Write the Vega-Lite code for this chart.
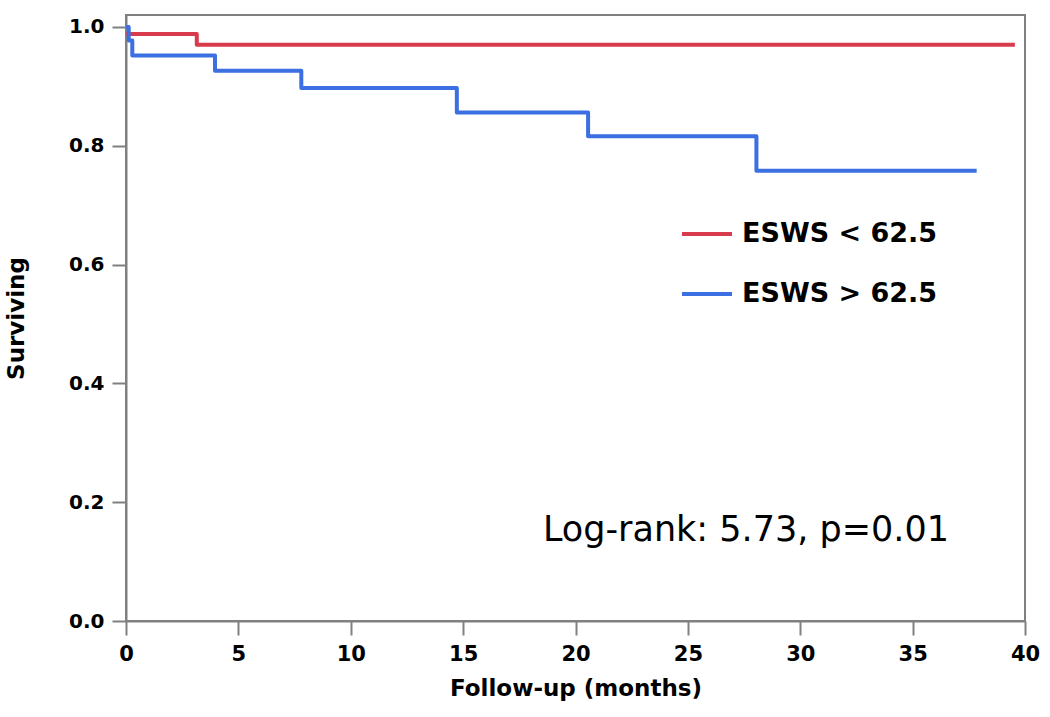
{
  "$schema": "https://vega.github.io/schema/vega-lite/v6.json",
  "autosize": "none",
  "width": 899,
  "height": 606,
  "padding": {"left": 126, "top": 15, "right": 25, "bottom": 96},
  "background": "white",
  "config": {
    "view": {"stroke": "#808080", "strokeWidth": 2},
    "font": "DejaVu Sans"
  },
  "datasets": {
    "km": [
      {"group": "ESWS < 62.5", "months": 0, "surv": 0.988},
      {"group": "ESWS < 62.5", "months": 3.15, "surv": 0.970},
      {"group": "ESWS < 62.5", "months": 39.55, "surv": 0.970},
      {"group": "ESWS > 62.5", "months": 0, "surv": 1.0},
      {"group": "ESWS > 62.5", "months": 0.12, "surv": 0.977},
      {"group": "ESWS > 62.5", "months": 0.28, "surv": 0.952},
      {"group": "ESWS > 62.5", "months": 3.96, "surv": 0.926},
      {"group": "ESWS > 62.5", "months": 7.8, "surv": 0.897},
      {"group": "ESWS > 62.5", "months": 14.72, "surv": 0.856},
      {"group": "ESWS > 62.5", "months": 20.56, "surv": 0.816},
      {"group": "ESWS > 62.5", "months": 28.05, "surv": 0.758},
      {"group": "ESWS > 62.5", "months": 37.85, "surv": 0.758}
    ],
    "note": [
      {"months": 18.55, "surv": 0.153, "label": "Log-rank: 5.73, p=0.01"}
    ]
  },
  "layer": [
    {
      "data": {"name": "km"},
      "mark": {"type": "line", "interpolate": "step-after", "strokeWidth": 4, "strokeJoin": "round", "strokeCap": "butt"},
      "encoding": {
        "x": {
          "field": "months", "type": "quantitative",
          "scale": {"domain": [0, 40], "nice": false, "zero": false},
          "axis": {
            "title": "Follow-up (months)", "values": [0, 5, 10, 15, 20, 25, 30, 35, 40],
            "grid": false, "domainColor": "#808080", "domainWidth": 2,
            "tickColor": "#808080", "tickWidth": 2, "tickSize": 14,
            "labelFont": "DejaVu Sans", "labelFontWeight": "bold", "labelFontSize": 21, "labelColor": "black",
            "labelPadding": 8, "labelFlush": false,
            "titleFont": "DejaVu Sans", "titleFontWeight": "bold", "titleFontSize": 23, "titleColor": "black",
            "titlePadding": 13
          }
        },
        "y": {
          "field": "surv", "type": "quantitative",
          "scale": {"domain": [0, 1.02], "nice": false, "zero": false},
          "axis": {
            "title": "Surviving", "values": [0, 0.2, 0.4, 0.6, 0.8, 1.0], "format": ".1f",
            "grid": false, "domainColor": "#808080", "domainWidth": 2,
            "tickColor": "#808080", "tickWidth": 2, "tickSize": 14,
            "labelFont": "DejaVu Sans", "labelFontWeight": "bold", "labelFontSize": 20, "labelColor": "black",
            "labelPadding": 8, "labelFlush": false,
            "titleFont": "DejaVu Sans", "titleFontWeight": "bold", "titleFontSize": 23, "titleColor": "black",
            "titlePadding": 40
          }
        },
        "color": {
          "field": "group", "type": "nominal",
          "scale": {"domain": ["ESWS < 62.5", "ESWS > 62.5"], "range": ["#d83c4c", "#3b6fe2"]},
          "legend": {
            "title": null, "orient": "none", "legendX": 554, "legendY": 192,
            "symbolType": "stroke", "symbolSize": 2500, "symbolStrokeWidth": 4,
            "labelFont": "DejaVu Sans", "labelFontWeight": "bold", "labelFontSize": 27, "labelColor": "black",
            "labelOffset": 8, "rowPadding": 20, "labelLimit": 400
          }
        }
      }
    },
    {
      "data": {"name": "note"},
      "mark": {"type": "text", "align": "left", "baseline": "middle", "font": "DejaVu Sans", "fontSize": 35, "color": "black"},
      "encoding": {
        "x": {"field": "months", "type": "quantitative"},
        "y": {"field": "surv", "type": "quantitative"},
        "text": {"field": "label"}
      }
    }
  ]
}
